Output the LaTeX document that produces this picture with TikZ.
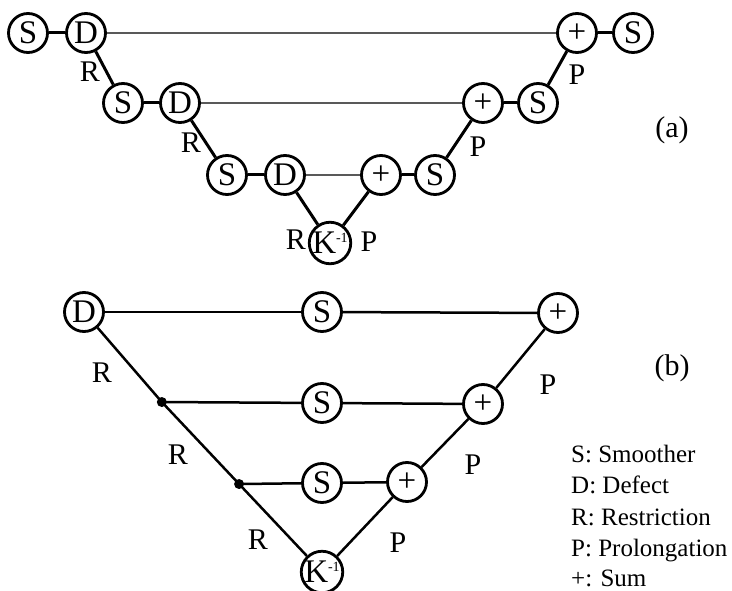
\documentclass[tikz,border=0pt]{standalone}
\usepackage{fontspec}
\setmainfont{Liberation Serif}
\usetikzlibrary{calc}
\tikzset{
  op/.style={circle,draw,line width=2.8pt,minimum size=39pt,inner sep=0pt,font=\fontsize{33}{36}\selectfont},
  conn/.style={line width=3pt},
  connb/.style={line width=2.5pt},
  grayline/.style={line width=2.2pt,black!65},
  lab/.style={font=\fontsize{30}{33}\selectfont,inner sep=0pt},
  leg/.style={font=\fontsize{25}{28}\selectfont,inner sep=0pt,anchor=base west},
  jdot/.style={circle,fill,inner sep=0pt,minimum size=10pt}
}
\newcommand{\kinv}{K\raisebox{0.75ex}{\fontsize{14}{15}\selectfont -1}}
\begin{document}
\begin{tikzpicture}[x=1pt,y=-1pt]
\useasboundingbox (0,0) rectangle (732,591);
% ---------- (a) ----------
\node[op] (aS1) at (28,33) {S};
\node[op] (aD1) at (86,33) {D};
\node[op] (aS2) at (123,103) {S};
\node[op] (aD2) at (180,103) {D};
\node[op] (aS3) at (227,175) {S};
\node[op] (aD3) at (285,175) {D};
\node[op] (aK) at (330,243) {\kinv};
\node[op] (aP3) at (381,175) {+};
\node[op] (aS4) at (435,175) {S};
\node[op] (aP2) at (483,103) {+};
\node[op] (aS5) at (538,103) {S};
\node[op] (aP1) at (577,33) {+};
\node[op] (aS6) at (633,33) {S};
\draw[conn] (aS1) -- (aD1);
\draw[conn] (aS2) -- (aD2);
\draw[conn] (aS3) -- (aD3);
\draw[conn] (aP3) -- (aS4);
\draw[conn] (aP2) -- (aS5);
\draw[conn] (aP1) -- (aS6);
\draw[conn] (aD1) -- (aS2);
\draw[conn] (aD2) -- (aS3);
\draw[conn] (aD3) -- (aK);
\draw[conn] (aK) -- (aP3);
\draw[conn] (aS4) -- (aP2);
\draw[conn] (aS5) -- (aP1);
\draw[grayline] (aD1) -- (aP1);
\draw[grayline] (aD2) -- (aP2);
\draw[grayline] (aD3) -- (aP3);
\node[lab] (aR1) at (90,72) {R};
\node[lab] (aR2) at (191,143) {R};
\node[lab] (aR3) at (296,240) {R};
\node[lab] (aPr3) at (369,242) {P};
\node[lab] (aPr2) at (478,147) {P};
\node[lab] (aPr1) at (577,75) {P};
\node[lab] (alab) at (672,130) {(a)};
% ---------- (b) ----------
\node[op] (bD) at (84,312) {D};
\node[op] (bS1) at (322,312) {S};
\node[op] (bP1) at (558,313) {+};
\node[op] (bS2) at (322,403) {S};
\node[op] (bP2) at (483,404) {+};
\node[op] (bS3) at (322,483) {S};
\node[op] (bP3) at (407,482) {+};
\node[op] (bK) at (322,572) {\kinv};
\coordinate (bDe) at (77,312);
\node[jdot] (bj1) at (intersection of bDe--bK and bS2--bP2) {};
\node[jdot] (bj2) at (intersection of bDe--bK and bS3--bP3) {};
\draw[connb] (bD) -- (bS1);
\draw[connb] (bS1) -- (bP1);
\draw[connb] (bj1.center) -- (bS2);
\draw[connb] (bS2) -- (bP2);
\draw[connb] (bj2.center) -- (bS3);
\draw[connb] (bS3) -- (bP3);
\draw[connb] (bD) -- (bj1.center) -- (bj2.center) -- (bK);
\draw[connb] (bK) -- (bP3);
\draw[connb] (bP3) -- (bP2);
\draw[connb] (bP2) -- (bP1);
\node[lab] (bR1) at (102,373) {R};
\node[lab] (bR2) at (178,455) {R};
\node[lab] (bR3) at (258,540) {R};
\node[lab] (bPr1) at (548,385) {P};
\node[lab] (bPr2) at (473,465) {P};
\node[lab] (bPr3) at (398,543) {P};
\node[lab] (blab) at (672,368) {(b)};
% ---------- legend ----------
\node[leg] (l1) at (571,462) {S: Smoother};
\node[leg] (l2) at (571,493.5) {D: Defect};
\node[leg] (l3) at (571,525) {R: Restriction};
\node[leg] (l4) at (571,556) {P: Prolongation};
\node[leg] (l5) at (571,586) {+: Sum};
\end{tikzpicture}
\end{document}
